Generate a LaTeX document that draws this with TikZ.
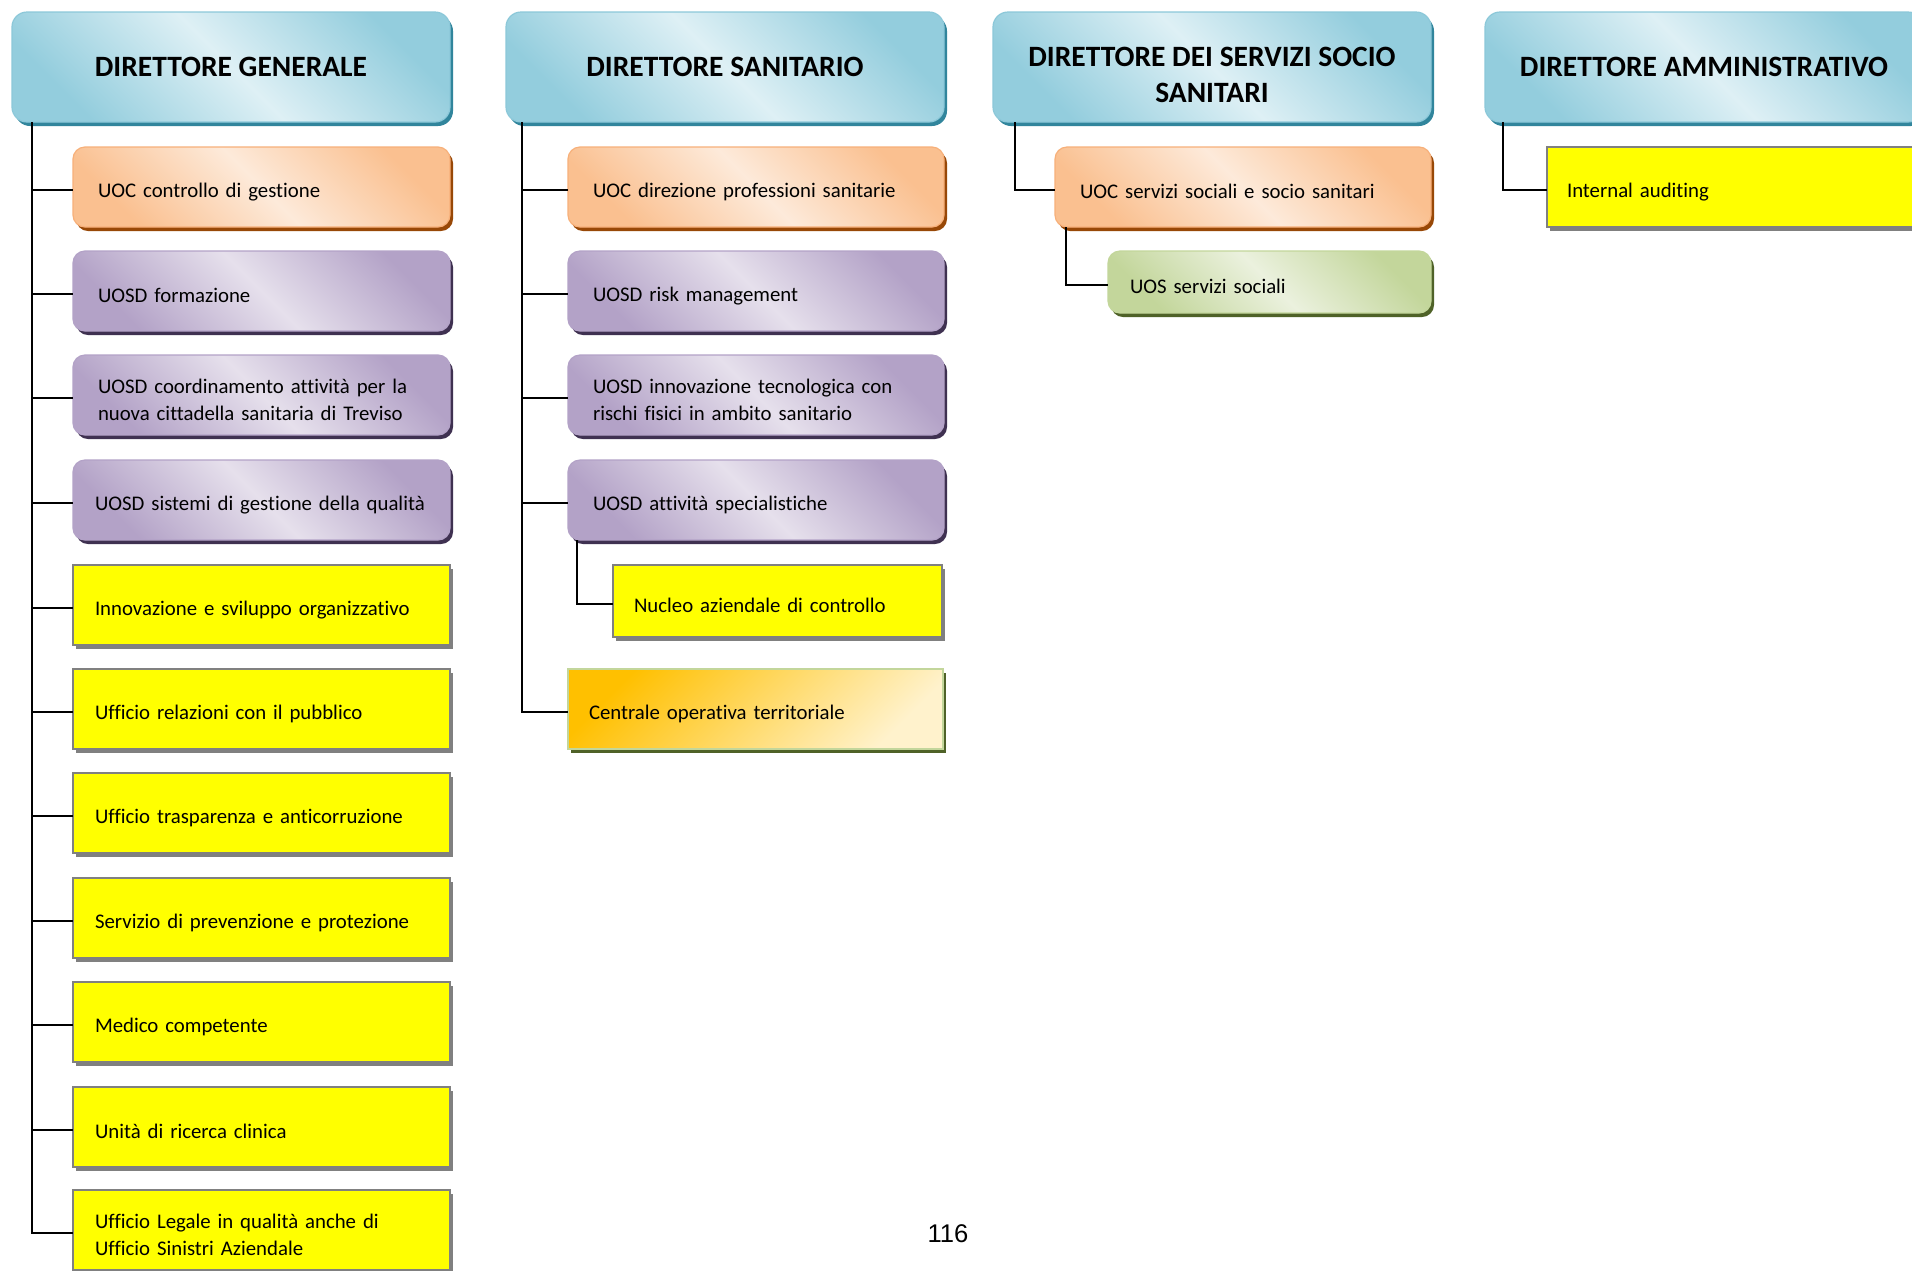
\documentclass[tikz,border=0pt]{standalone}
\usepackage{fontspec}
\setmainfont{Carlito}[Ligatures=NoCommon]
\newfontfamily\arialfont{Liberation Sans}
\usetikzlibrary{shadows}
\definecolor{hdrD}{HTML}{93CDDD}
\definecolor{hdrL}{HTML}{DEF0F5}
\definecolor{hdrB}{HTML}{8CC8D9}
\definecolor{hdrS}{HTML}{31859C}
\definecolor{orD}{HTML}{FAC090}
\definecolor{orL}{HTML}{FDEADA}
\definecolor{orB}{HTML}{F7B07A}
\definecolor{orS}{HTML}{984807}
\definecolor{puD}{HTML}{B3A2C7}
\definecolor{puL}{HTML}{E6E0EC}
\definecolor{puB}{HTML}{B3A2C7}
\definecolor{puS}{HTML}{3F3151}
\definecolor{grD}{HTML}{C3D69B}
\definecolor{grL}{HTML}{EBF1DE}
\definecolor{grS}{HTML}{4F6228}
\definecolor{yeF}{HTML}{FFFF00}
\definecolor{yeB}{HTML}{808080}
\definecolor{ceD}{HTML}{FFC000}
\definecolor{ceL}{HTML}{FFF2CC}
\tikzset{
  box/.style={anchor=north west, align=left, inner ysep=0pt, outer sep=0pt, line width=1.2pt,
    font=\fontsize{20.8}{27}\selectfont, minimum height=80pt,
    execute at begin node={\rule{0pt}{24pt}}},
  hdr/.style={anchor=north west, align=center, rounded corners=15pt, draw=hdrB, line width=1.2pt,
    outer sep=0pt, left color=hdrD, right color=hdrD, middle color=hdrL, shading angle=135,
    minimum width=438pt, minimum height=110pt, font=\hdrfont,
    drop shadow={shadow xshift=3pt, shadow yshift=-4pt, fill=hdrS, opacity=1}},
  hdrtext/.style={align=center, inner sep=0pt, font=\hdrfont},
  orng/.style={box, rounded corners=12pt, draw=orB, left color=orD, right color=orD, middle color=orL,
    shading angle=135, drop shadow={shadow xshift=3pt, shadow yshift=-4pt, fill=orS, opacity=1}},
  purp/.style={box, rounded corners=12pt, draw=puB, left color=puD, right color=puD, middle color=puL,
    shading angle=135, drop shadow={shadow xshift=3pt, shadow yshift=-4pt, fill=puS, opacity=1}},
  grn/.style={box, rounded corners=12pt, draw=grD, left color=grD, right color=grD, middle color=grL,
    shading angle=135, drop shadow={shadow xshift=3pt, shadow yshift=-4pt, fill=grS, opacity=1}},
  yel/.style={box, draw=yeB, fill=yeF, line width=1.5pt,
    drop shadow={shadow xshift=3pt, shadow yshift=-4pt, fill=yeB, opacity=1}},
  cen/.style={box, draw=grD, left color=ceD, right color=ceL, shading angle=45, line width=1.5pt,
    drop shadow={shadow xshift=3pt, shadow yshift=-4pt, fill=grS, opacity=1}},
  wa/.style={text width=327pt, inner xsep=25pt},
  wb/.style={text width=333pt, inner xsep=22pt},
  wc/.style={text width=326pt, inner xsep=25pt},
  conn/.style={draw=black, line width=2pt}
}
\newcommand\hdrfont{\fontsize{29.5}{36}\selectfont\bfseries}
\begin{document}
\begin{tikzpicture}[x=1pt,y=-1pt]
\useasboundingbox (0,0) rectangle (1912,1270);
\fill[white] (0,0) rectangle (1912,1270);
\clip (0,0) rectangle (1912,1270);

% headers
\node[hdr] (dg) at (12,12) {DIRETTORE GENERALE};
\node[hdr] (ds) at (506,12) {DIRETTORE SANITARIO};
\node[hdr] (dsss) at (993,12) {};
\node[hdrtext] (dssstext) at ([yshift=-8pt]dsss.center) {DIRETTORE DEI SERVIZI SOCIO\\SANITARI};
\node[hdr] (da) at (1485,12) {DIRETTORE AMMINISTRATIVO};

% column 1
\node[orng, wa] (c1) at (73,147) {UOC controllo di gestione};
\node[purp, wa] (c2) at (73,251) {UOSD formazione};
\node[purp, wa] (c3) at (73,355) {UOSD coordinamento attività per la\\nuova cittadella sanitaria di Treviso};
\node[purp, wb] (c4) at (73,460) {\mbox{UOSD sistemi di gestione della qualità}};
\node[yel, wb] (c5) at (73,565) {Innovazione e sviluppo organizzativo};
\node[yel, wb] (c6) at (73,669) {Ufficio relazioni con il pubblico};
\node[yel, wb] (c7) at (73,773) {Ufficio trasparenza e anticorruzione};
\node[yel, wb] (c8) at (73,878) {Servizio di prevenzione e protezione};
\node[yel, wb] (c9) at (73,982) {Medico competente};
\node[yel, wb] (c10) at (73,1087) {Unità di ricerca clinica};
\node[yel, wb] (c11) at (73,1190) {Ufficio Legale in qualità anche di\\Ufficio Sinistri Aziendale};

% column 2
\node[orng, wc] (s1) at (568,147) {UOC direzione professioni sanitarie};
\node[purp, wc] (s2) at (568,251) {UOSD risk management};
\node[purp, wc] (s3) at (568,355) {UOSD innovazione tecnologica con\\rischi fisici in ambito sanitario};
\node[purp, wc] (s4) at (568,460) {UOSD attività specialistiche};
\node[yel, text width=287pt, inner xsep=21pt, minimum height=72pt] (s5) at (613,565) {Nucleo aziendale di controllo};
\node[cen, text width=333pt, inner xsep=21pt] (s6) at (568,669) {Centrale operativa territoriale};

% column 3
\node[orng, wc] (t1) at (1055,147) {UOC servizi sociali e socio sanitari};
\node[grn, text width=279pt, inner xsep=22pt, minimum height=62pt] (t2) at (1108,251) {UOS servizi sociali};

% column 4
\node[yel, text width=336pt, inner xsep=20pt] (a1) at (1547,147) {Internal auditing};

% connectors
\coordinate (dgt) at ([xshift=20pt]dg.south west);
\coordinate (dst) at ([xshift=16pt]ds.south west);
\coordinate (dsst) at ([xshift=22pt]dsss.south west);
\coordinate (dat) at ([xshift=18pt]da.south west);
\coordinate (s4t) at ([xshift=9pt]s4.south west);
\coordinate (t1t) at ([xshift=11pt]t1.south west);
\foreach \n in {c1,c2,c3,c4,c5,c6,c7,c8,c9,c10,c11} \draw[conn] (dgt) |- ([yshift=-3pt]\n.west);
\foreach \n in {s1,s2,s3,s4,s6} \draw[conn] (dst) |- ([yshift=-3pt]\n.west);
\draw[conn] (s4t) |- ([yshift=-3pt]s5.west);
\draw[conn] (dsst) |- ([yshift=-3pt]t1.west);
\draw[conn] (t1t) |- ([yshift=-3pt]t2.west);
\draw[conn] (dat) |- ([yshift=-3pt]a1.west);

% page number
\node[font=\arialfont\fontsize{25.6}{30}\selectfont, inner sep=0pt] (pg) at (948,1234) {116};
\end{tikzpicture}
\end{document}
